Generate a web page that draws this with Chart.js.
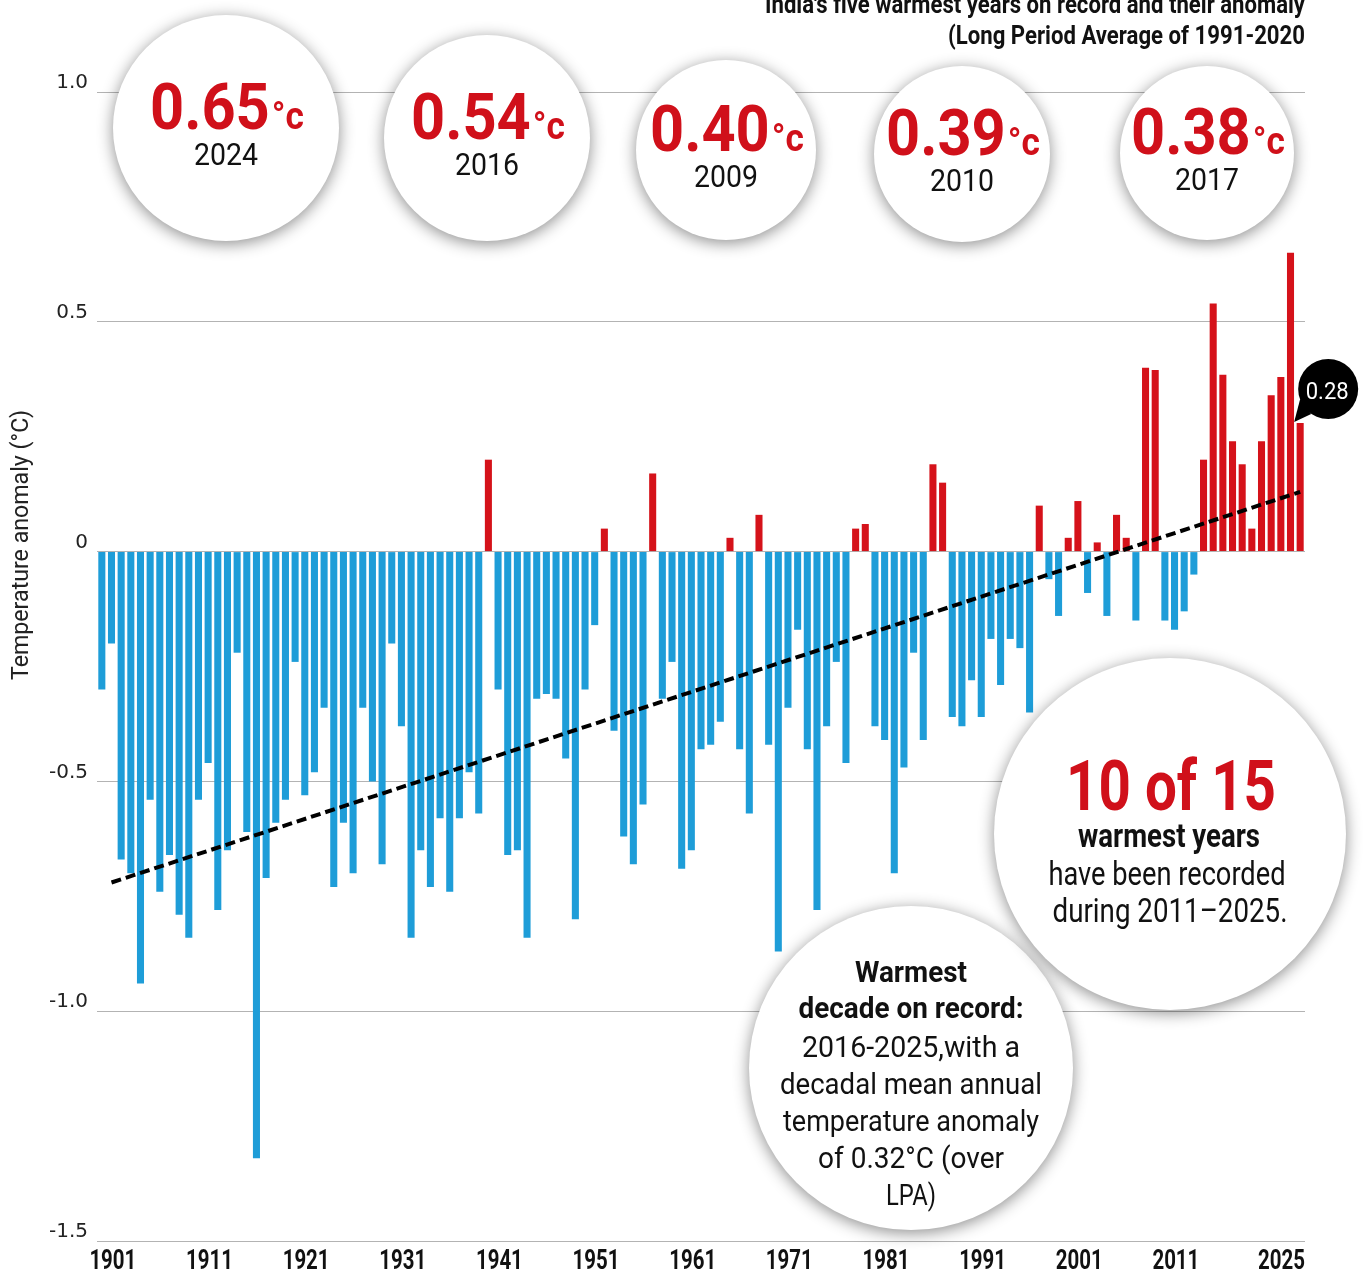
<!DOCTYPE html>
<html>
<head>
<meta charset="utf-8">
<title>India annual mean temperature anomaly 1901-2025</title>
<script src="https://cdn.jsdelivr.net/npm/chart.js@4.4.1/dist/chart.umd.min.js"></script>
<style>
    html, body { margin: 0; padding: 0; background: #fff; }
    #wrap { position: relative; width: 1368px; height: 1271px; }
</style>
</head>
<body>
<div id="wrap"><canvas id="anomalyChart"></canvas></div>
<script>
/*
============================================================
Data
============================================================
*/

const years = Array.from({ length: 125 }, (_, i) => String(1901 + i));

const anomalies = [
    // 1901-1910
    -0.30, -0.20, -0.67, -0.70, -0.94, -0.54, -0.74, -0.66, -0.79, -0.84,
    // 1911-1920
    -0.54, -0.46, -0.78, -0.65, -0.22, -0.61, -1.32, -0.71, -0.59, -0.54,
    // 1921-1930
    -0.24, -0.53, -0.48, -0.34, -0.73, -0.59, -0.70, -0.34, -0.50, -0.68,
    // 1931-1940
    -0.20, -0.38, -0.84, -0.65, -0.73, -0.58, -0.74, -0.58, -0.48, -0.57,
    // 1941-1950
    0.20, -0.30, -0.66, -0.65, -0.84, -0.32, -0.31, -0.32, -0.45, -0.80,
    // 1951-1960
    -0.30, -0.16, 0.05, -0.39, -0.62, -0.68, -0.55, 0.17, -0.32, -0.24,
    // 1961-1970
    -0.69, -0.65, -0.43, -0.42, -0.37, 0.03, -0.43, -0.57, 0.08, -0.42,
    // 1971-1980
    -0.87, -0.34, -0.17, -0.43, -0.78, -0.38, -0.24, -0.46, 0.05, 0.06,
    // 1981-1990
    -0.38, -0.41, -0.70, -0.47, -0.22, -0.41, 0.19, 0.15, -0.36, -0.38,
    // 1991-2000
    -0.28, -0.36, -0.19, -0.29, -0.19, -0.21, -0.35, 0.10, -0.06, -0.14,
    // 2001-2010
    0.03, 0.11, -0.09, 0.02, -0.14, 0.08, 0.03, -0.15, 0.40, 0.395,
    // 2011-2020
    -0.15, -0.17, -0.13, -0.05, 0.20, 0.54, 0.385, 0.24, 0.19, 0.05,
    // 2021-2025
    0.24, 0.34, 0.38, 0.65, 0.28
];

const trendYears = ["1902", "2025"];

const trendValues = [-0.72, 0.13];

const xTickYears = ["1901", "1911", "1921", "1931", "1941", "1951", "1961",
    "1971", "1981", "1991", "2001", "2011", "2025"];

const yTicks = [1.0, 0.5, 0, -0.5, -1.0, -1.5];

const warmestYears = ["2024", "2016", "2009", "2010", "2017"];

const warmestValues = [0.65, 0.54, 0.40, 0.39, 0.38];

/*
============================================================
Style
============================================================
*/

const BLUE = "#1e9dd8";
const RED = "#d5121a";
const TEXT_RED = "#d0101a";
const INK = "#111";

// circles along the top: centre and radius
const topCircles = [
    { x: 226, y: 128, r: 113 },
    { x: 487, y: 138, r: 103 },
    { x: 726, y: 150, r: 90 },
    { x: 962, y: 154, r: 88 },
    { x: 1207, y: 153, r: 87 }
];

/*
============================================================
Drawing helpers
============================================================
*/

function fitText(ctx, text, x, baseline, font, width, color, align = "center") {

    ctx.save();
    ctx.font = font;
    const sx = width / ctx.measureText(text).width;
    ctx.translate(x, baseline);
    ctx.scale(sx, 1);
    ctx.textAlign = align;
    ctx.textBaseline = "alphabetic";
    ctx.fillStyle = color;
    ctx.fillText(text, 0, 0);
    ctx.restore();

}

function bubble(ctx, cx, cy, r) {

    ctx.save();
    ctx.shadowColor = "rgba(0,0,0,0.45)";
    ctx.shadowBlur = 16;
    ctx.shadowOffsetY = 3;
    ctx.fillStyle = "#fff";
    ctx.beginPath();
    ctx.arc(cx, cy, r, 0, Math.PI * 2);
    ctx.fill();
    ctx.restore();

}

function degreeValue(ctx, value, cx, baseline, width) {

    const num = value.toFixed(2);
    ctx.save();
    ctx.font = "bold 64px Roboto";
    const w1 = ctx.measureText(num).width;
    ctx.font = "bold 38px Roboto";
    const w2 = ctx.measureText("°c").width;
    const sx = width / (w1 + w2);
    ctx.translate(cx - width / 2, baseline);
    ctx.scale(sx, 1);
    ctx.fillStyle = TEXT_RED;
    ctx.textAlign = "left";
    ctx.font = "bold 64px Roboto";
    ctx.fillText(num, 0, 0);
    ctx.font = "bold 38px Roboto";
    ctx.fillText("°c", w1 + 2, 0);
    ctx.restore();

}

/*
============================================================
Annotation plugin
============================================================
*/

const annotations = {

    id: "annotations",

    afterDraw(chart) {

        const { ctx, chartArea, scales: { x, y } } = chart;

        // x axis labels
        ctx.save();
        ctx.font = "bold 28px Roboto";
        const labelWidth = ctx.measureText("1901").width * 0.73;
        ctx.restore();
        xTickYears.forEach(yr => {
            const i = years.indexOf(yr);
            if (i === years.length - 1) {
                fitText(ctx, yr, chartArea.right, 1269, "bold 28px Roboto", labelWidth, INK, "right");
            } else {
                fitText(ctx, yr, x.getPixelForValue(i) + 11, 1269, "bold 28px Roboto", labelWidth, INK);
            }
        });

        // y axis title
        ctx.save();
        ctx.translate(28, 545);
        ctx.rotate(-Math.PI / 2);
        fitText(ctx, "Temperature anomaly (°C)", 0, 0, "24px Roboto", 270, "#222");
        ctx.restore();

        // title
        fitText(ctx, "India's five warmest years on record and their anomaly",
            chartArea.right, 13, "bold 25px Roboto", 540, INK, "right");
        fitText(ctx, "(Long Period Average of 1991-2020",
            chartArea.right, 44, "bold 25px Roboto", 357, INK, "right");

        // five warmest years
        topCircles.forEach((c, i) => {
            bubble(ctx, c.x, c.y, c.r);
            degreeValue(ctx, warmestValues[i], c.x, c.y + 1, 152);
            fitText(ctx, warmestYears[i], c.x, c.y + 37, "32px Roboto", 64, INK);
        });

        // warmest decade note
        bubble(ctx, 911, 1068, 162);
        const decade = [
            ["Warmest", 982, true, 112],
            ["decade on record:", 1018, true, 225],
            ["2016-2025,with a", 1057, false, 218],
            ["decadal mean annual", 1094, false, 262],
            ["temperature anomaly", 1131, false, 256],
            ["of 0.32°C (over", 1168, false, 186],
            ["LPA)", 1205, false, 50]
        ];
        decade.forEach(([t, b, bold, w]) => {
            fitText(ctx, t, 911, b, (bold ? "bold " : "") + "29px Roboto", w, INK);
        });

        // 10 of 15 note
        bubble(ctx, 1170, 834, 176);
        fitText(ctx, "10 of 15", 1171, 810, "bold 70px Roboto", 210, TEXT_RED);
        fitText(ctx, "warmest years", 1169, 847, "bold 33px Roboto", 182, INK);
        fitText(ctx, "have been recorded", 1167, 885, "33px Roboto", 237, INK);
        fitText(ctx, "during 2011\u20132025.", 1170, 922, "33px Roboto", 235, INK);

        // latest year callout
        const last = anomalies.length - 1;
        const bx = x.getPixelForValue(last);
        const by = y.getPixelForValue(anomalies[last]);
        const cx = bx + 28;
        const cy = by - 34;
        ctx.save();
        ctx.fillStyle = "#000";
        ctx.beginPath();
        ctx.arc(cx, cy, 30, 0, Math.PI * 2);
        ctx.fill();
        ctx.beginPath();
        ctx.moveTo(cx - 28, cy + 10);
        ctx.lineTo(bx - 6, by - 1);
        ctx.lineTo(cx - 17, cy + 25);
        ctx.closePath();
        ctx.fill();
        ctx.restore();
        fitText(ctx, anomalies[last].toFixed(2), cx - 1, cy + 10, "24px Roboto", 43, "#fff");

    }

};

/*
============================================================
Chart
============================================================
*/

new Chart(document.getElementById("anomalyChart"), {

    type: "bar",

    data: {

        labels: years,

        datasets: [

            {
                type: "line",
                data: trendYears.map((yr, i) => ({ x: yr, y: trendValues[i] })),
                borderColor: "#000",
                borderWidth: 4,
                borderDash: [10, 5],
                pointRadius: 0,
                fill: false,
                order: 0
            },

            {
                data: anomalies,
                backgroundColor: ctx => (ctx.raw >= 0 ? RED : BLUE),
                borderWidth: 0,
                barPercentage: 0.73,
                categoryPercentage: 1.0,
                order: 1
            }

        ]

    },

    options: {

        responsive: true,

        maintainAspectRatio: false,

        animation: false,

        layout: {
            padding: { top: 92, right: 63, bottom: 0, left: 0 }
        },

        plugins: {
            legend: { display: false },
            tooltip: { enabled: false }
        },

        scales: {

            x: {
                grid: { display: false },
                border: { display: false },
                ticks: { display: false },
                afterFit: scale => { scale.height = 30; }
            },

            y: {
                min: -1.5,
                max: 1.0,
                afterBuildTicks: scale => {
                    scale.ticks = yTicks.map(v => ({ value: v }));
                },
                afterFit: scale => { scale.width = 97; },
                border: { display: false },
                grid: {
                    color: "#b3b3b3",
                    lineWidth: 1,
                    drawTicks: false
                },
                ticks: {
                    padding: 9,
                    labelOffset: -9,
                    color: "#222",
                    font: { family: "'DejaVu Sans'", size: 20 },
                    callback: v => (v === 0 ? "0" : v.toFixed(1))
                }
            }

        }

    },

    plugins: [annotations]

});
</script>
</body>
</html>
